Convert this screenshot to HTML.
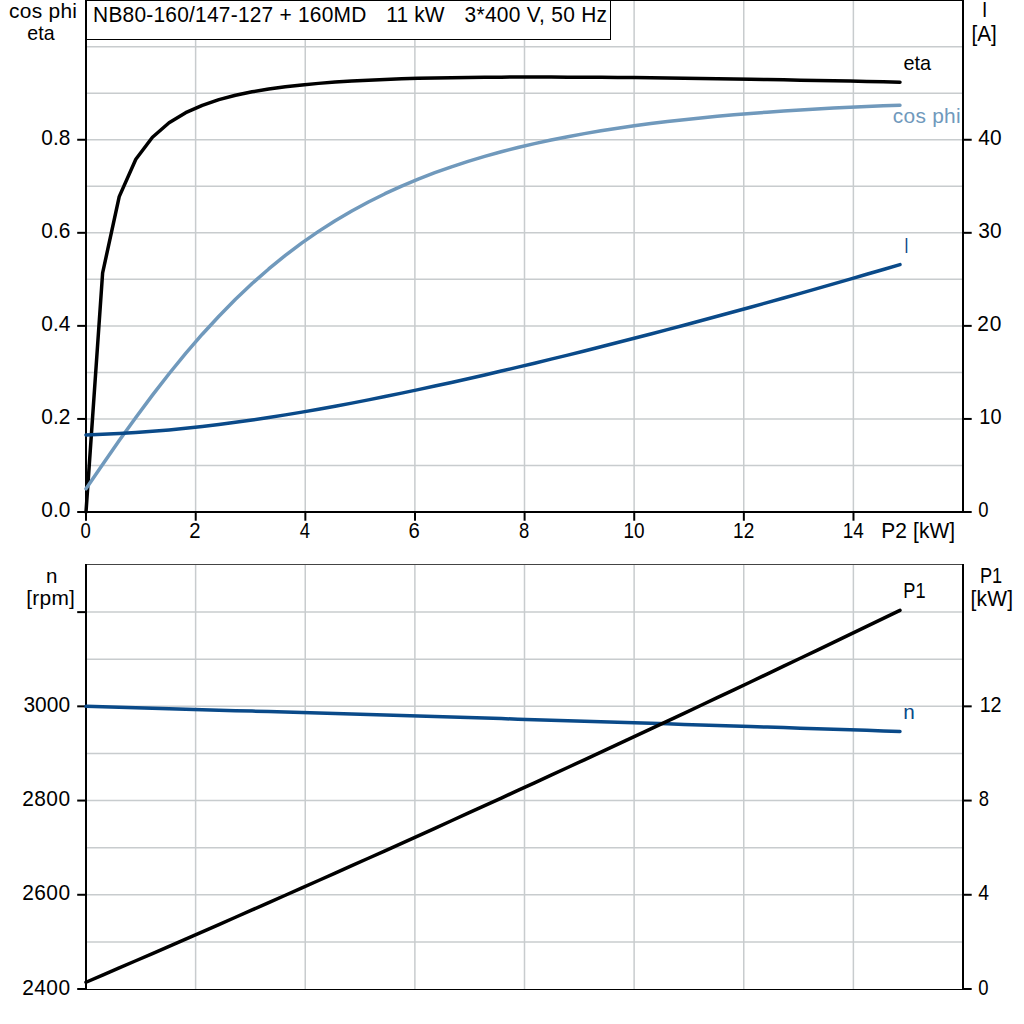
<!DOCTYPE html>
<html><head><meta charset="utf-8"><title>chart</title>
<style>
html,body{margin:0;padding:0;background:#fff;}
svg{display:block;}
text{font-family:"Liberation Sans",sans-serif;font-size:20.3px;fill:#000;}
</style></head><body>
<svg width="1024" height="1024" viewBox="0 0 1024 1024">
<rect x="0" y="0" width="1024" height="1024" fill="#fff"/>
<g stroke="#c8ccce" stroke-width="1.5" fill="none">
<line x1="86.0" y1="465.47" x2="963.0" y2="465.47"/>
<line x1="86.0" y1="418.94" x2="963.0" y2="418.94"/>
<line x1="86.0" y1="372.41" x2="963.0" y2="372.41"/>
<line x1="86.0" y1="325.88" x2="963.0" y2="325.88"/>
<line x1="86.0" y1="279.35" x2="963.0" y2="279.35"/>
<line x1="86.0" y1="232.82" x2="963.0" y2="232.82"/>
<line x1="86.0" y1="186.29" x2="963.0" y2="186.29"/>
<line x1="86.0" y1="139.76" x2="963.0" y2="139.76"/>
<line x1="86.0" y1="93.23" x2="963.0" y2="93.23"/>
<line x1="86.0" y1="46.70" x2="963.0" y2="46.70"/>
<line x1="195.62" y1="0" x2="195.62" y2="512.0"/>
<line x1="305.25" y1="0" x2="305.25" y2="512.0"/>
<line x1="414.88" y1="0" x2="414.88" y2="512.0"/>
<line x1="524.50" y1="0" x2="524.50" y2="512.0"/>
<line x1="634.12" y1="0" x2="634.12" y2="512.0"/>
<line x1="743.75" y1="0" x2="743.75" y2="512.0"/>
<line x1="853.38" y1="0" x2="853.38" y2="512.0"/>
<line x1="86.0" y1="941.89" x2="963.0" y2="941.89"/>
<line x1="86.0" y1="894.78" x2="963.0" y2="894.78"/>
<line x1="86.0" y1="847.67" x2="963.0" y2="847.67"/>
<line x1="86.0" y1="800.56" x2="963.0" y2="800.56"/>
<line x1="86.0" y1="753.45" x2="963.0" y2="753.45"/>
<line x1="86.0" y1="706.34" x2="963.0" y2="706.34"/>
<line x1="86.0" y1="659.23" x2="963.0" y2="659.23"/>
<line x1="86.0" y1="612.12" x2="963.0" y2="612.12"/>
<line x1="195.62" y1="565" x2="195.62" y2="989.0"/>
<line x1="305.25" y1="565" x2="305.25" y2="989.0"/>
<line x1="414.88" y1="565" x2="414.88" y2="989.0"/>
<line x1="524.50" y1="565" x2="524.50" y2="989.0"/>
<line x1="634.12" y1="565" x2="634.12" y2="989.0"/>
<line x1="743.75" y1="565" x2="743.75" y2="989.0"/>
<line x1="853.38" y1="565" x2="853.38" y2="989.0"/>
</g>
<g shape-rendering="crispEdges" fill="#000">
<rect x="85" y="0" width="879" height="1" fill="#000"/>
<rect x="85" y="0" width="2" height="513"/>
<rect x="962" y="0" width="2" height="513"/>
<rect x="85" y="511" width="879" height="2"/>
<rect x="87" y="1" width="523" height="38" fill="#fff"/>
<rect x="86" y="39" width="525" height="1"/>
<rect x="610" y="0" width="1" height="40"/>
<rect x="85" y="564" width="879" height="1" fill="#444"/>
<rect x="85" y="564" width="2" height="426"/>
<rect x="962" y="564" width="2" height="426"/>
<rect x="85" y="989" width="879" height="1"/>
</g>
<g stroke="#000" stroke-width="2" fill="none">
<line x1="77.20" y1="512.00" x2="85.00" y2="512.00"/>
<line x1="964.00" y1="512.00" x2="971.70" y2="512.00"/>
<line x1="77.20" y1="418.94" x2="85.00" y2="418.94"/>
<line x1="964.00" y1="418.94" x2="971.70" y2="418.94"/>
<line x1="77.20" y1="325.88" x2="85.00" y2="325.88"/>
<line x1="964.00" y1="325.88" x2="971.70" y2="325.88"/>
<line x1="77.20" y1="232.82" x2="85.00" y2="232.82"/>
<line x1="964.00" y1="232.82" x2="971.70" y2="232.82"/>
<line x1="77.20" y1="139.76" x2="85.00" y2="139.76"/>
<line x1="964.00" y1="139.76" x2="971.70" y2="139.76"/>
<line x1="86.00" y1="513.00" x2="86.00" y2="520.70"/>
<line x1="195.72" y1="513.00" x2="195.72" y2="520.70"/>
<line x1="305.35" y1="513.00" x2="305.35" y2="520.70"/>
<line x1="414.98" y1="513.00" x2="414.98" y2="520.70"/>
<line x1="524.60" y1="513.00" x2="524.60" y2="520.70"/>
<line x1="634.23" y1="513.00" x2="634.23" y2="520.70"/>
<line x1="743.85" y1="513.00" x2="743.85" y2="520.70"/>
<line x1="853.48" y1="513.00" x2="853.48" y2="520.70"/>
<line x1="77.20" y1="989.00" x2="85.00" y2="989.00"/>
<line x1="964.00" y1="989.00" x2="971.70" y2="989.00"/>
<line x1="77.20" y1="894.78" x2="85.00" y2="894.78"/>
<line x1="964.00" y1="894.78" x2="971.70" y2="894.78"/>
<line x1="77.20" y1="800.56" x2="85.00" y2="800.56"/>
<line x1="964.00" y1="800.56" x2="971.70" y2="800.56"/>
<line x1="77.20" y1="706.34" x2="85.00" y2="706.34"/>
<line x1="964.00" y1="706.34" x2="971.70" y2="706.34"/>
<line x1="77.20" y1="612.12" x2="85.00" y2="612.12"/>
</g>
<g fill="none" stroke-width="3.5" stroke-linecap="round" stroke-linejoin="round">
<polyline stroke="#000" points="86.00,512.00 102.61,273.00 119.22,196.62 135.83,159.24 152.45,137.22 169.06,122.80 185.67,112.70 202.28,105.30 218.89,99.67 235.50,95.30 252.12,91.83 268.73,89.04 285.34,86.77 301.95,84.91 318.56,83.37 335.17,82.10 351.78,81.04 368.40,80.17 385.01,79.45 401.62,78.85 418.23,78.37 434.84,77.98 451.45,77.67 468.07,77.44 484.68,77.27 501.29,77.15 517.90,77.08 534.51,77.06 551.12,77.07 567.73,77.13 584.35,77.21 600.96,77.32 617.57,77.46 634.18,77.62 650.79,77.80 667.40,78.00 684.02,78.22 700.63,78.45 717.24,78.70 733.85,78.96 750.46,79.24 767.07,79.52 783.68,79.82 800.30,80.13 816.91,80.44 833.52,80.77 850.13,81.10 866.74,81.44 883.35,81.79 899.97,82.14"/>
<polyline stroke="#7099bc" points="86.00,488.73 102.61,464.42 119.22,440.60 135.83,417.45 152.45,395.12 169.06,373.75 185.67,353.43 202.28,334.23 218.89,316.19 235.50,299.30 252.12,283.56 268.73,268.95 285.34,255.41 301.95,242.91 318.56,231.37 335.17,220.74 351.78,210.96 368.40,201.96 385.01,193.70 401.62,186.10 418.23,179.11 434.84,172.69 451.45,166.79 468.07,161.36 484.68,156.37 501.29,151.77 517.90,147.53 534.51,143.63 551.12,140.03 567.73,136.71 584.35,133.65 600.96,130.83 617.57,128.22 634.18,125.81 650.79,123.59 667.40,121.54 684.02,119.64 700.63,117.89 717.24,116.28 733.85,114.79 750.46,113.41 767.07,112.15 783.68,110.99 800.30,109.92 816.91,108.94 833.52,108.04 850.13,107.22 866.74,106.48 883.35,105.80 899.97,105.19"/>
<polyline stroke="#0a4a89" points="86.00,434.89 102.61,434.34 119.22,433.57 135.83,432.58 152.45,431.36 169.06,429.94 185.67,428.32 202.28,426.50 218.89,424.50 235.50,422.33 252.12,420.00 268.73,417.51 285.34,414.88 301.95,412.12 318.56,409.22 335.17,406.21 351.78,403.10 368.40,399.87 385.01,396.56 401.62,393.15 418.23,389.65 434.84,386.08 451.45,382.43 468.07,378.71 484.68,374.92 501.29,371.07 517.90,367.16 534.51,363.19 551.12,359.17 567.73,355.09 584.35,350.96 600.96,346.78 617.57,342.56 634.18,338.29 650.79,333.98 667.40,329.62 684.02,325.22 700.63,320.78 717.24,316.30 733.85,311.78 750.46,307.23 767.07,302.63 783.68,298.00 800.30,293.33 816.91,288.63 833.52,283.89 850.13,279.11 866.74,274.30 883.35,269.45 899.97,264.57"/>
<polyline stroke="#0a4a89" points="86.00,706.34 102.61,706.81 119.22,707.28 135.83,707.76 152.45,708.23 169.06,708.71 185.67,709.19 202.28,709.67 218.89,710.15 235.50,710.63 252.12,711.12 268.73,711.61 285.34,712.10 301.95,712.59 318.56,713.08 335.17,713.58 351.78,714.07 368.40,714.57 385.01,715.07 401.62,715.57 418.23,716.08 434.84,716.58 451.45,717.09 468.07,717.60 484.68,718.11 501.29,718.62 517.90,719.14 534.51,719.65 551.12,720.17 567.73,720.69 584.35,721.21 600.96,721.73 617.57,722.26 634.18,722.79 650.79,723.31 667.40,723.84 684.02,724.38 700.63,724.91 717.24,725.44 733.85,725.98 750.46,726.52 767.07,727.06 783.68,727.60 800.30,728.15 816.91,728.69 833.52,729.24 850.13,729.79 866.74,730.34 883.35,730.89 899.97,731.45"/>
<polyline stroke="#000" points="86.00,982.25 102.61,975.10 119.22,967.94 135.83,960.75 152.45,953.55 169.06,946.33 185.67,939.09 202.28,931.83 218.89,924.55 235.50,917.26 252.12,909.95 268.73,902.61 285.34,895.26 301.95,887.90 318.56,880.51 335.17,873.10 351.78,865.68 368.40,858.24 385.01,850.78 401.62,843.30 418.23,835.80 434.84,828.29 451.45,820.75 468.07,813.20 484.68,805.63 501.29,798.04 517.90,790.43 534.51,782.80 551.12,775.16 567.73,767.50 584.35,759.81 600.96,752.12 617.57,744.40 634.18,736.66 650.79,728.90 667.40,721.13 684.02,713.34 700.63,705.53 717.24,697.70 733.85,689.85 750.46,681.99 767.07,674.10 783.68,666.20 800.30,658.28 816.91,650.34 833.52,642.38 850.13,634.41 866.74,626.41 883.35,618.40 899.97,610.37"/>
</g>
<text transform="translate(9.00,17.80) scale(1.0300,1.0)" style="letter-spacing:0.280px;" xml:space="preserve">cos phi</text>
<text transform="translate(27.30,40.00) scale(0.9649,1.0)" style="letter-spacing:0.000px;" xml:space="preserve">eta</text>
<text transform="translate(93.07,22.00) scale(1.0300,1.045)" style="letter-spacing:0.233px;" xml:space="preserve">NB80-160/147-127 + 160MD</text>
<text transform="translate(386.37,22.00) scale(1.0300,1.045)" style="letter-spacing:0.096px;" xml:space="preserve">11 kW</text>
<text transform="translate(464.60,22.00) scale(1.0300,1.045)" style="letter-spacing:0.280px;" xml:space="preserve">3*400 V, 50 Hz</text>
<text transform="translate(41.30,517.30) scale(1.0281,1.045)" style="letter-spacing:0.000px;" xml:space="preserve">0.0</text>
<text transform="translate(41.30,424.24) scale(1.0281,1.045)" style="letter-spacing:0.000px;" xml:space="preserve">0.2</text>
<text transform="translate(41.30,331.18) scale(1.0281,1.045)" style="letter-spacing:0.000px;" xml:space="preserve">0.4</text>
<text transform="translate(41.30,238.12) scale(1.0281,1.045)" style="letter-spacing:0.000px;" xml:space="preserve">0.6</text>
<text transform="translate(41.30,145.06) scale(1.0281,1.045)" style="letter-spacing:0.000px;" xml:space="preserve">0.8</text>
<text transform="translate(979.32,424.24) scale(0.9822,1.045)" style="letter-spacing:0.000px;" xml:space="preserve">10</text>
<text transform="translate(977.27,331.18) scale(1.0300,1.045)" style="letter-spacing:0.954px;" xml:space="preserve">20</text>
<text transform="translate(978.30,238.12) scale(1.0279,1.045)" style="letter-spacing:0.000px;" xml:space="preserve">30</text>
<text transform="translate(978.30,145.06) scale(1.0279,1.045)" style="letter-spacing:0.000px;" xml:space="preserve">40</text>
<text transform="translate(978.30,517.30) scale(0.9091,1.045)" style="letter-spacing:0.000px;" xml:space="preserve">0</text>
<text transform="translate(982.07,17.40) scale(0.9333,1.045)" style="letter-spacing:0.000px;" xml:space="preserve">I</text>
<text transform="translate(971.48,40.90) scale(1.0189,1.045)" style="letter-spacing:0.000px;" xml:space="preserve">[A]</text>
<text transform="translate(80.60,538.30) scale(0.9091,1.045)" style="letter-spacing:0.000px;" xml:space="preserve">0</text>
<text transform="translate(189.22,538.30) scale(1.0000,1.045)" style="letter-spacing:0.000px;" xml:space="preserve">2</text>
<text transform="translate(299.85,538.30) scale(0.9091,1.045)" style="letter-spacing:0.000px;" xml:space="preserve">4</text>
<text transform="translate(408.48,538.30) scale(1.0000,1.045)" style="letter-spacing:0.000px;" xml:space="preserve">6</text>
<text transform="translate(519.10,538.30) scale(0.9091,1.045)" style="letter-spacing:0.000px;" xml:space="preserve">8</text>
<text transform="translate(623.49,538.30) scale(0.9352,1.045)" style="letter-spacing:0.000px;" xml:space="preserve">10</text>
<text transform="translate(733.11,538.30) scale(0.9352,1.045)" style="letter-spacing:0.000px;" xml:space="preserve">12</text>
<text transform="translate(842.74,538.30) scale(0.9352,1.045)" style="letter-spacing:0.000px;" xml:space="preserve">14</text>
<text transform="translate(881.17,538.00) scale(1.0300,1.045)" style="letter-spacing:0.139px;" xml:space="preserve">P2 [kW]</text>
<text transform="translate(903.50,69.70) scale(0.9788,1.0)" style="letter-spacing:0.000px;" xml:space="preserve">eta</text>
<text transform="translate(892.80,123.00) scale(1.0300,1.0)" style="letter-spacing:0.248px;fill:#7099bc;" xml:space="preserve">cos phi</text>
<text transform="translate(904.13,252.80) scale(0.7667,1.045)" style="letter-spacing:0.000px;fill:#0a4a89;" xml:space="preserve">I</text>
<text transform="translate(45.89,582.60) scale(1.0111,1.0)" style="letter-spacing:0.000px;" xml:space="preserve">n</text>
<text transform="translate(26.27,605.40) scale(1.0300,1.0)" style="letter-spacing:0.243px;" xml:space="preserve">[rpm]</text>
<text transform="translate(22.37,994.50) scale(1.0300,1.045)" style="letter-spacing:0.371px;" xml:space="preserve">2400</text>
<text transform="translate(22.37,900.28) scale(1.0300,1.045)" style="letter-spacing:0.371px;" xml:space="preserve">2600</text>
<text transform="translate(22.37,806.06) scale(1.0300,1.045)" style="letter-spacing:0.371px;" xml:space="preserve">2800</text>
<text transform="translate(23.40,711.84) scale(1.0300,1.045)" style="letter-spacing:0.038px;" xml:space="preserve">3000</text>
<text transform="translate(978.30,994.50) scale(0.9091,1.045)" style="letter-spacing:0.000px;" xml:space="preserve">0</text>
<text transform="translate(978.30,900.28) scale(0.9545,1.045)" style="letter-spacing:0.000px;" xml:space="preserve">4</text>
<text transform="translate(978.80,806.06) scale(0.9091,1.045)" style="letter-spacing:0.000px;" xml:space="preserve">8</text>
<text transform="translate(979.63,711.84) scale(0.9728,1.045)" style="letter-spacing:0.000px;" xml:space="preserve">12</text>
<text transform="translate(979.90,582.70) scale(0.8968,1.045)" style="letter-spacing:0.000px;" xml:space="preserve">P1</text>
<text transform="translate(970.47,605.60) scale(1.0300,1.045)" style="letter-spacing:0.296px;" xml:space="preserve">[kW]</text>
<text transform="translate(903.30,597.80) scale(0.8968,1.045)" style="letter-spacing:0.000px;" xml:space="preserve">P1</text>
<text transform="translate(903.28,718.60) scale(1.0222,1.0)" style="letter-spacing:0.000px;fill:#0a4a89;" xml:space="preserve">n</text>
</svg></body></html>
